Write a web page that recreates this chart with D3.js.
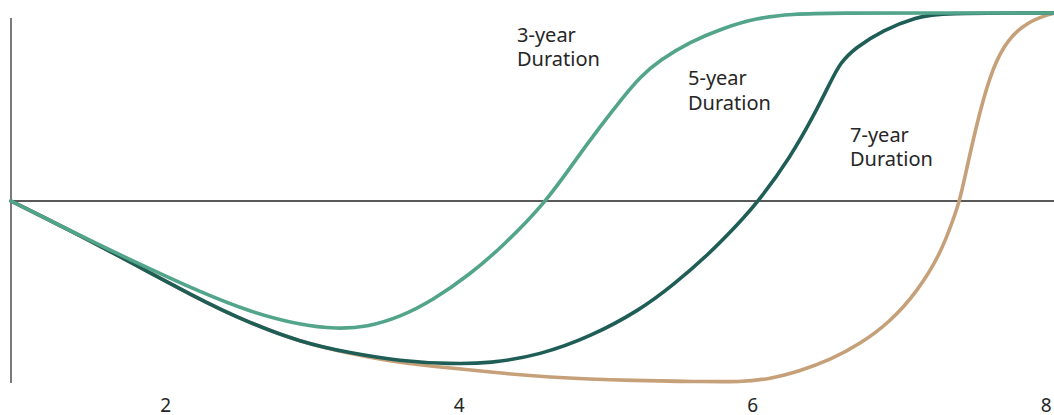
<!DOCTYPE html>
<html>
<head>
<meta charset="utf-8">
<script src="https://cdn.jsdelivr.net/npm/d3@7"></script>
<style>
  html, body { margin: 0; padding: 0; background: #fff; }
  svg { display: block; }
  text { font-family: "Noto Sans", "Open Sans", sans-serif; fill: #262626; }
</style>
</head>
<body>
<svg id="chart" width="1054" height="415"></svg>
<script>
// ---- data ----
const xTicks = [2, 4, 6, 8];

const threeYear = [
  [0.95, 0], [1.42, -0.184], [1.85, -0.345], [2.238, -0.484], [2.578, -0.590], [2.919, -0.660],
  [3.171, -0.681], [3.376, -0.670], [3.601, -0.617], [3.825, -0.527], [4.075, -0.392],
  [4.31, -0.235], [4.60, 0], [4.781, 0.202], [4.963, 0.394], [5.122, 0.553],
  [5.236, 0.660], [5.372, 0.750], [5.576, 0.846], [5.801, 0.920], [6.031, 0.973],
  [6.261, 0.995], [6.599, 1.0], [7.2, 1.0], [8.06, 1.0]
];
const fiveYear = [
  [0.95, 0], [1.556, -0.236], [2.238, -0.527], [2.578, -0.649], [2.919, -0.750],
  [3.260, -0.809], [3.601, -0.851], [3.941, -0.867], [4.214, -0.864], [4.555, -0.819],
  [4.895, -0.723], [5.236, -0.580], [5.461, -0.447], [5.692, -0.293], [5.917, -0.112],
  [6.045, 0], [6.261, 0.234], [6.415, 0.447], [6.531, 0.628], [6.599, 0.734],
  [6.701, 0.814], [6.892, 0.910], [7.123, 0.979], [7.280, 1.0], [8.06, 1.0]
];
const sevenYear = [
  [0.95, 0], [1.556, -0.236], [2.238, -0.527], [2.578, -0.649], [2.919, -0.750],
  [3.260, -0.812], [3.601, -0.862], [3.941, -0.888], [4.282, -0.915], [4.555, -0.936],
  [5.236, -0.957], [5.645, -0.960], [5.917, -0.963], [6.122, -0.947], [6.326, -0.904],
  [6.531, -0.846], [6.735, -0.761], [6.939, -0.644], [7.123, -0.484], [7.280, -0.287],
  [7.369, -0.101], [7.416, 0.005], [7.464, 0.181], [7.553, 0.484], [7.641, 0.713],
  [7.737, 0.856], [7.873, 0.952], [8.030, 0.995], [8.06, 1.0]
];
const seriesData = [sevenYear, fiveYear, threeYear];
const seriesColors = ["#C6A079", "#1E5E56", "#52A48A"];
const labelLines = [["7-year", "Duration"], ["5-year", "Duration"], ["3-year", "Duration"]];
const labelAnchors = [[6.667, 0.315], [5.563, 0.617], [4.398, 0.847]];

// ---- chart ----
const svg = d3.select("#chart");
const x = d3.scaleLinear().domain([0.95, 8.05]).range([11, 1053]);
const y = d3.scaleLinear().domain([-1, 1]).range([389, 13]);

// vertical axis line
svg.append("line")
  .attr("x1", x(0.95)).attr("x2", x(0.95))
  .attr("y1", y(0.973)).attr("y2", y(-0.968))
  .attr("stroke", "#333").attr("stroke-width", 1.3);

// zero line
svg.append("line")
  .attr("x1", x(0.95)).attr("x2", 1054)
  .attr("y1", y(0)).attr("y2", y(0))
  .attr("stroke", "#222").attr("stroke-width", 1.3);

// x axis labels
const xAxis = d3.axisBottom(x).tickValues(xTicks).tickSize(0).tickPadding(0).tickFormat(d3.format("d"));
const gx = svg.append("g").attr("transform", "translate(0,398)").call(xAxis);
gx.select(".domain").remove();
gx.selectAll("text")
  .attr("dy", 0).attr("y", 13.5)
  .style("font-size", "19px")
  .style("font-family", "'Noto Sans', 'Open Sans', sans-serif")
  .attr("fill", "#262626");

// lines
const line = d3.line().x(d => x(d[0])).y(d => y(d[1])).curve(d3.curveBasis);
svg.selectAll("path.series")
  .data(seriesData)
  .join("path")
  .attr("class", "series")
  .attr("d", line)
  .attr("fill", "none")
  .attr("stroke", (d, i) => seriesColors[i])
  .attr("stroke-width", 3.6)
  .attr("stroke-linecap", "round")
  .attr("stroke-linejoin", "round");

// labels
labelLines.forEach((lines, i) => {
  const t = svg.append("text")
    .attr("x", x(labelAnchors[i][0]))
    .attr("y", y(labelAnchors[i][1]))
    .style("font-size", "20px");
  lines.forEach((ln, j) => {
    t.append("tspan").attr("x", x(labelAnchors[i][0])).attr("dy", j === 0 ? 0 : 24.5).text(ln);
  });
});
</script>
</body>
</html>
